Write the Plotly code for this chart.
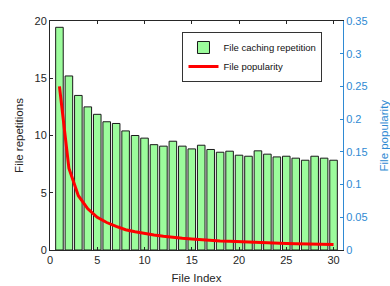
import plotly.graph_objects as go

file_index = list(range(1, 31))
repetitions = [19.45, 15.2, 13.5, 12.5, 11.85, 11.2, 11.05, 10.4, 10.0, 9.77,
               9.2, 9.07, 9.5, 9.07, 8.83, 9.15, 8.78, 8.54, 8.63, 8.28,
               8.19, 8.66, 8.37, 8.13, 8.19, 8.02, 7.84, 8.19, 8.02, 7.84]
popularity = [0.250, 0.125, 0.083, 0.063, 0.050, 0.042, 0.036, 0.031, 0.028, 0.025,
              0.023, 0.021, 0.019, 0.018, 0.017, 0.0156, 0.0147, 0.0139, 0.0132, 0.0125,
              0.0119, 0.0114, 0.0109, 0.0104, 0.0100, 0.0096, 0.0093, 0.0089, 0.0086, 0.0083]
x_ticks = [0, 5, 10, 15, 20, 25, 30]
y_ticks = [0, 5, 10, 15, 20]
y2_ticks = [0, 0.05, 0.1, 0.15, 0.2, 0.25, 0.3, 0.35]
y2_tick_labels = ["0", "0.05", "0.1", "0.15", "0.2", "0.25", "0.3", "0.35"]

dark = "#262626"
blue = "#2f8ad3"
font = "Liberation Sans, Arial, sans-serif"

fig = go.Figure()
fig.add_trace(go.Bar(
    x=file_index, y=repetitions, name="File caching repetition",
    marker=dict(color="#9cfc9c", line=dict(color="#1a1a1a", width=1)),
    width=0.8,
))
fig.add_trace(go.Scatter(
    x=file_index, y=popularity, name="File popularity", yaxis="y2",
    mode="lines", line=dict(color="#ff0000", width=3),
))

fig.update_layout(
    width=390, height=286,
    margin=dict(l=50, r=47, t=21, b=36, autoexpand=False),
    paper_bgcolor="white", plot_bgcolor="white",
    font=dict(family=font, size=11, color=dark),
    showlegend=True,
    legend=dict(x=0.93, y=0.952, xanchor="right", yanchor="top",
                bgcolor="white", bordercolor="#333333", borderwidth=1,
                font=dict(size=9.5, color="#111111"),
                tracegroupgap=0, itemwidth=30),
    xaxis=dict(range=[0, 31], tickvals=x_ticks, ticks="inside", ticklen=3,
               tickcolor=dark, showline=True, linecolor=dark, linewidth=1,
               mirror="ticks", showgrid=False, zeroline=False,
               title=dict(text="File Index", standoff=8, font=dict(size=11.5)),
               tickfont=dict(size=11)),
    yaxis=dict(range=[0, 20], tickvals=y_ticks, ticks="inside", ticklen=3,
               tickcolor=dark, showline=True, linecolor=dark, linewidth=1,
               showgrid=False, zeroline=False,
               title=dict(text="File repetitions", standoff=8, font=dict(size=11.5)),
               tickfont=dict(size=11)),
    yaxis2=dict(range=[0, 0.35], tickvals=y2_ticks, ticktext=y2_tick_labels,
                overlaying="y", side="right", ticks="inside", ticklen=3,
                tickcolor=blue, showline=True, linecolor=blue, linewidth=1,
                showgrid=False, zeroline=False, automargin=False,
                tickfont=dict(size=11, color=blue)),
    annotations=[dict(text="File popularity", xref="paper", yref="paper",
                      x=1, y=0.5, xanchor="center", yanchor="middle",
                      xshift=40, textangle=-90, showarrow=False,
                      font=dict(size=11.5, color=blue))],
)

fig.write_html("out.html", config={"displayModeBar": False},
               post_script="document.body.style.margin='0';document.body.style.overflow='hidden';")
